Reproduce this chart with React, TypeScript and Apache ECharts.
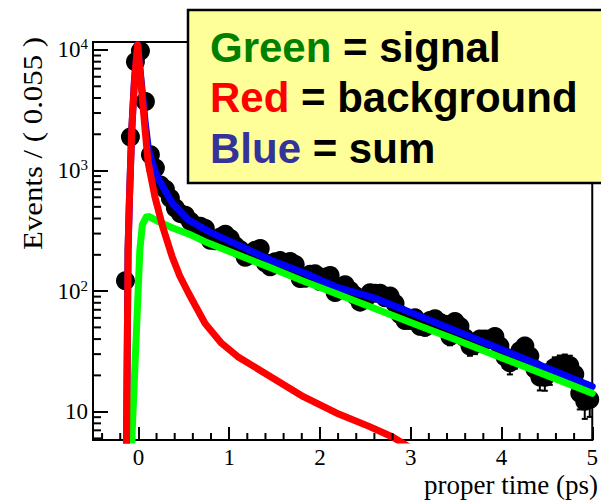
import React, { useEffect, useRef } from "react";
import * as echarts from "echarts";

// ---- Histogram binning (bins of 0.055 ps starting at -0.5 ps) ----
const binStart = -0.5;
const binWidth = 0.055;
const firstShownBin = 6;

// Events per bin (from bin 6 on; earlier bins are below the plotted range)
const eventCounts = [
  122, 1900, 8000, 9800, 3740, 1350, 1050, 760, 700, 590, 490, 440, 425, 380, 350, 345, 330,
  264, 262, 281, 296, 273, 238, 220, 191, 199, 218, 226,
  172, 159, 175, 179, 159, 176, 166, 127, 128, 138, 139,
  120, 130, 135, 97.5, 106, 113, 101, 92, 81, 85,
  97, 96, 96, 88, 91, 79, 64, 57, 57, 60,
  51, 50, 57, 59, 55, 53, 42, 56, 51, 41,
  35, 36, 40, 40, 40, 42, 35, 28.5, 25.4, 28,
  32, 35, 29, 22.6, 19.4, 19.3, 21.3, 23.4, 24.3, 24.8,
  24.2, 20.4, 14.2, 12.2, 12.6,
];

// ---- Fitted curves: [proper time (ps), events] ----
const signalCurve = [
  [-0.085, 2], [-0.0705, 6.2], [-0.0217, 46], [0.0163, 220], [0.0434, 354], [0.0868, 412],
  [0.119, 415], [0.228, 375], [0.372, 335], [0.553, 298], [0.734, 257], [1.095, 200],
  [1.457, 156], [1.818, 121], [2.18, 95], [2.541, 75], [3.0, 55], [3.5, 39.5], [4.0, 28],
  [4.5, 20], [5.0, 14.2],
];

const backgroundCurve = [
  [-0.145, 2], [-0.13, 5.8], [-0.114, 220], [-0.098, 600], [-0.073, 2170], [-0.043, 5600],
  [-0.008, 11000], [0.027, 5600], [0.074, 2170], [0.108, 1160], [0.141, 870], [0.182, 606],
  [0.228, 445], [0.271, 335], [0.372, 193], [0.455, 134], [0.553, 96], [0.734, 54],
  [0.915, 37], [1.095, 28.6], [1.457, 19.5], [1.818, 13.3], [2.18, 9.75], [2.541, 7.55],
  [2.795, 6.2], [3.0, 5.0],
];

const sumCurve = [
  [-0.145, 2], [-0.13, 6], [-0.114, 220], [-0.098, 600], [-0.073, 2200], [-0.043, 5700],
  [-0.008, 11100], [0.027, 5900], [0.074, 2550], [0.108, 1550], [0.141, 1240], [0.182, 1000],
  [0.228, 836], [0.372, 538], [0.553, 389], [0.803, 304], [1.095, 242], [1.453, 181],
  [1.822, 142], [2.18, 108], [2.614, 87], [3.0, 66.4], [3.5, 46.7], [4.0, 32.8],
  [4.5, 23.0], [5.0, 16.2],
];

// ---- Axis ranges and minor ticks ----
const xMin = -0.5;
const xMax = 5.0;
const yMin = 5.82;
const yMax = 11650;
const xMinorTicks = [
  -0.4, -0.2, 0.2, 0.4, 0.6, 0.8, 1.2, 1.4, 1.6, 1.8, 2.2, 2.4, 2.6, 2.8,
  3.2, 3.4, 3.6, 3.8, 4.2, 4.4, 4.6, 4.8,
];
const yMinorTicks = [
  6, 7, 8, 9, 20, 30, 40, 50, 60, 70, 80, 90, 200, 300, 400, 500, 600, 700, 800, 900,
  2000, 3000, 4000, 5000, 6000, 7000, 8000, 9000,
];

const serif = "'Liberation Serif', 'Times New Roman', serif";
const sans = "'Liberation Sans', Arial, sans-serif";

export default function App() {
  const ref = useRef<HTMLDivElement>(null);

  useEffect(() => {
    if (!ref.current) return;
    const chart = echarts.init(ref.current, undefined, { renderer: "svg" });

    const points = eventCounts.map((c, i) => [
      binStart + binWidth * (firstShownBin + i + 0.5),
      c,
    ]);

    const lineStyleFor = (color: string) => ({
      color,
      width: 7,
      cap: "round" as const,
      join: "round" as const,
      opacity: 1,
    });

    const legendRow = (y: number, word: string, color: string, rest: string) => ({
      type: "text",
      x: 210,
      y,
      z: 102,
      style: {
        text: `{c|${word}}{k|${rest}}`,
        verticalAlign: "middle",
        align: "left",
        rich: {
          c: { fill: color, fontSize: 42, fontWeight: "bold", fontFamily: sans },
          k: { fill: "#000", fontSize: 42, fontWeight: "bold", fontFamily: sans },
        },
      },
    });

    chart.setOption({
      animation: false,
      backgroundColor: "#fff",
      grid: {
        left: 93,
        top: 42,
        right: 1,
        bottom: 61,
        show: true,
        borderColor: "#000",
        borderWidth: 2,
        backgroundColor: "transparent",
      },
      xAxis: {
        type: "value",
        min: xMin,
        max: xMax,
        splitNumber: 5,
        axisLine: { show: true, onZero: false, lineStyle: { color: "#000", width: 2 } },
        axisTick: { show: true, inside: true, length: 13, lineStyle: { color: "#000", width: 2 } },
        splitLine: { show: false },
        axisLabel: {
          color: "#000",
          fontFamily: serif,
          fontSize: 23,
          margin: 6,
          showMinLabel: false,
          formatter: (v: number) => String(Math.round(v)),
        },
      },
      yAxis: {
        type: "log",
        min: yMin,
        max: yMax,
        logBase: 10,
        axisLine: { show: true, onZero: false, lineStyle: { color: "#000", width: 2 } },
        axisTick: { show: true, inside: true, length: 15, lineStyle: { color: "#000", width: 2 } },
        splitLine: { show: false },
        axisLabel: {
          color: "#000",
          margin: 5,
          showMinLabel: false,
          showMaxLabel: false,
          formatter: (v: number) => {
            const e = Math.round(Math.log10(v));
            return e === 1 ? "{b|10}" : `{b|10}{s|${e}}`;
          },
          rich: {
            b: { fontFamily: serif, fontSize: 23, color: "#000", lineHeight: 26 },
            s: { fontFamily: serif, fontSize: 15, color: "#000", verticalAlign: "top", lineHeight: 15 },
          },
        },
      },
      series: [
        {
          type: "custom",
          name: "xMinorTicks",
          silent: true,
          z: 20,
          data: xMinorTicks.map((t) => [t, yMin]),
          renderItem: (_p: any, api: any) => {
            const c = api.coord([api.value(0), api.value(1)]);
            return {
              type: "line",
              shape: { x1: c[0], y1: c[1], x2: c[0], y2: c[1] - 7 },
              style: { stroke: "#000", lineWidth: 2 },
            };
          },
        },
        {
          type: "custom",
          name: "yMinorTicks",
          silent: true,
          z: 20,
          data: yMinorTicks.map((v) => [xMin, v]),
          renderItem: (_p: any, api: any) => {
            const c = api.coord([api.value(0), api.value(1)]);
            return {
              type: "line",
              shape: { x1: c[0], y1: c[1], x2: c[0] + 8, y2: c[1] },
              style: { stroke: "#000", lineWidth: 2 },
            };
          },
        },
        {
          type: "custom",
          name: "errors",
          silent: true,
          z: 2,
          data: points,
          renderItem: (_p: any, api: any) => {
            const t = api.value(0);
            const n = api.value(1);
            const e = Math.sqrt(n);
            const hi = api.coord([t, n + e]);
            const lo = api.coord([t, Math.max(n - e, 0.5)]);
            const st = { stroke: "#000", lineWidth: 2 };
            return {
              type: "group",
              children: [
                { type: "line", shape: { x1: hi[0], y1: hi[1], x2: lo[0], y2: lo[1] }, style: st },
                { type: "line", shape: { x1: hi[0] - 3, y1: hi[1], x2: hi[0] + 3, y2: hi[1] }, style: st },
                { type: "line", shape: { x1: lo[0] - 3, y1: lo[1], x2: lo[0] + 3, y2: lo[1] }, style: st },
              ],
            };
          },
        },
        {
          type: "scatter",
          name: "data",
          z: 3,
          symbol: "circle",
          symbolSize: 19,
          itemStyle: { color: "#000", opacity: 1, borderWidth: 0 },
          data: points,
        },
        {
          type: "line",
          name: "sum",
          z: 4,
          showSymbol: false,
          smooth: false,
          clip: true,
          lineStyle: lineStyleFor("#0000ff"),
          data: sumCurve,
        },
        {
          type: "line",
          name: "signal",
          z: 5,
          showSymbol: false,
          smooth: false,
          clip: true,
          lineStyle: lineStyleFor("#00ff00"),
          data: signalCurve,
        },
        {
          type: "line",
          name: "background",
          z: 6,
          showSymbol: false,
          smooth: false,
          clip: true,
          lineStyle: lineStyleFor("#ff0000"),
          data: backgroundCurve,
        },
      ],
      graphic: [
        {
          type: "text",
          x: 32,
          y: 37,
          rotation: Math.PI / 2,
          scaleX: 1.1,
          z: 50,
          style: {
            text: "Events / ( 0.055 )",
            fill: "#000",
            fontSize: 28,
            fontFamily: serif,
            align: "right",
            verticalAlign: "middle",
          },
        },
        {
          type: "text",
          x: 598,
          y: 485,
          z: 50,
          style: {
            text: "proper time (ps)",
            fill: "#000",
            fontSize: 27,
            fontFamily: serif,
            align: "right",
            verticalAlign: "middle",
          },
        },
        {
          type: "rect",
          z: 100,
          shape: { x: 188, y: 10, width: 430, height: 173 },
          style: { fill: "#ffff99", stroke: "#000", lineWidth: 2.5 },
        },
        legendRow(47, "Green", "#008000", " = signal"),
        legendRow(97, "Red", "#ff0000", " = background"),
        legendRow(148, "Blue", "#333399", " = sum"),
      ],
    });

    return () => chart.dispose();
  }, []);

  return (
    <div
      ref={ref}
      style={{ position: "absolute", left: 0, top: 0, width: 601, height: 501 }}
    />
  );
}
